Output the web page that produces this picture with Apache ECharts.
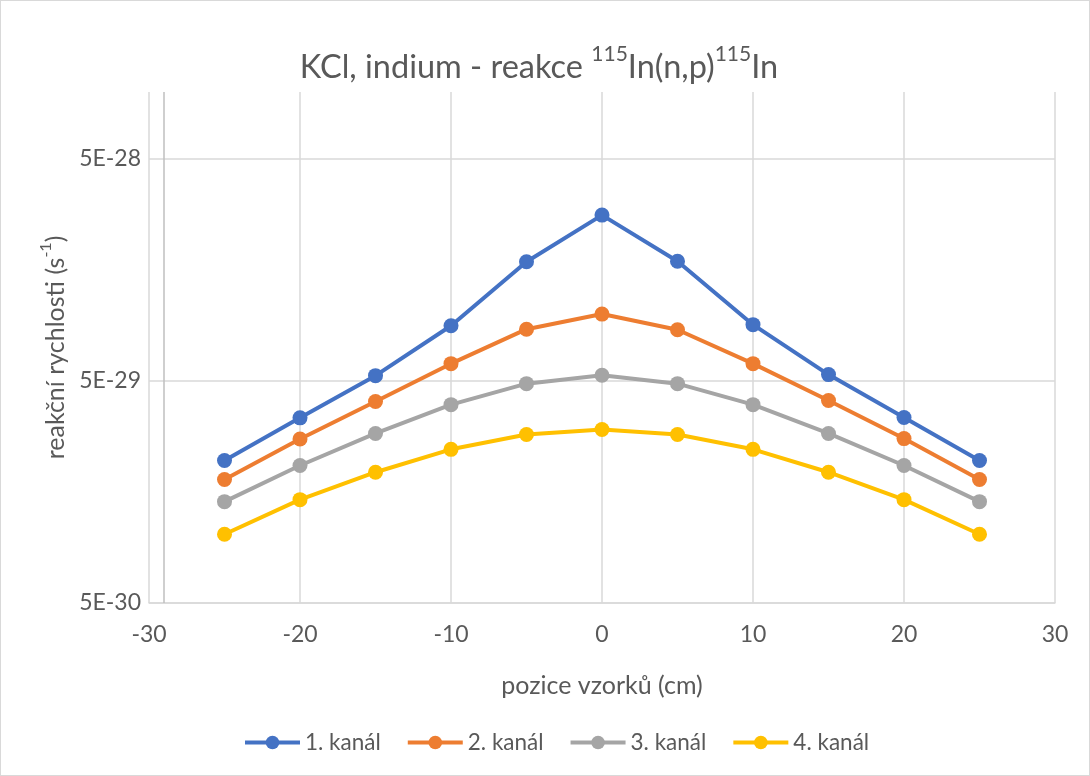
<!DOCTYPE html>
<html>
<head>
<meta charset="utf-8">
<script src="https://cdn.jsdelivr.net/npm/echarts@6/dist/echarts.min.js"></script>
<style>
html,body{margin:0;padding:0;background:#fff;}
#chart{width:1090px;height:776px;box-sizing:border-box;border:1px solid #d9d9d9;}
</style>
</head>
<body>
<div id="chart"></div>
<script>
// ---- data ----
const positions = [-25, -20, -15, -10, -5, 0, 5, 10, 15, 20, 25];
const seriesNames = ['1. kanál', '2. kanál', '3. kanál', '4. kanál'];
const kanal1 = [2.19e-29, 3.41e-29, 5.28e-29, 8.86e-29, 1.72e-28, 2.79e-28, 1.73e-28, 8.96e-29, 5.34e-29, 3.42e-29, 2.19e-29];
const kanal2 = [1.80e-29, 2.74e-29, 4.04e-29, 5.98e-29, 8.55e-29, 1.00e-28, 8.50e-29, 5.98e-29, 4.08e-29, 2.75e-29, 1.80e-29];
const kanal3 = [1.43e-29, 2.08e-29, 2.90e-29, 3.91e-29, 4.86e-29, 5.30e-29, 4.86e-29, 3.91e-29, 2.90e-29, 2.08e-29, 1.43e-29];
const kanal4 = [1.02e-29, 1.46e-29, 1.94e-29, 2.46e-29, 2.87e-29, 3.02e-29, 2.87e-29, 2.46e-29, 1.94e-29, 1.46e-29, 1.02e-29];
const xTicks = [-30, -20, -10, 0, 10, 20, 30];
const yMin = 5e-30;
const yMax = 1e-27;
const yTickLabels = ['5E-30', '5E-29', '5E-28'];

const colors = ['#4472C4', '#ED7D31', '#A5A5A5', '#FFC000'];
const allData = [kanal1, kanal2, kanal3, kanal4];
const FONT = 'Lato, "Open Sans", sans-serif';
const TXT = '#595959';
const GRID = '#d9d9d9';

const chart = echarts.init(document.getElementById('chart'), null, {renderer: 'canvas'});

const series = allData.map((vals, i) => ({
  name: seriesNames[i],
  type: 'line',
  yAxisIndex: 0,
  data: positions.map((x, j) => [x, vals[j]]),
  symbol: 'circle',
  symbolSize: 15,
  lineStyle: {width: 4, color: colors[i]},
  itemStyle: {color: colors[i]},
  emphasis: {disabled: true},
  z: 10 - i
}));

// vertical axis line of the original (drawn slightly right of the -30 gridline)
series[0].markLine = {
  silent: true,
  symbol: 'none',
  label: {show: false},
  lineStyle: {color: '#bfbfbf', width: 1.5, type: 'solid'},
  data: [{xAxis: -29}],
  z: 1
};

const decades = Math.log10(yMax / yMin);

chart.setOption({
  animation: false,
  color: colors,
  textStyle: {fontFamily: FONT},
  title: {
    text: '{n|KCl, indium - reakce }{s|115}{n|In(n,p)}{s|115}{n|In}',
    left: 533,
    textAlign: 'center',
    top: 38,
    textStyle: {
      fontWeight: 'normal',
      rich: {
        n: {fontSize: 32.5, fontWeight: 'normal', color: TXT, fontFamily: FONT, lineHeight: 40, verticalAlign: 'bottom'},
        s: {fontSize: 21, fontWeight: 'normal', color: TXT, fontFamily: FONT, lineHeight: 40, verticalAlign: 'top', padding: [0, 0, 12, 0]}
      }
    }
  },
  grid: {left: 148, right: 34, top: 91, bottom: 172, containLabel: false},
  xAxis: {
    type: 'value',
    min: -30, max: 30, interval: 10,
    name: 'pozice vzorků (cm)',
    nameLocation: 'middle',
    nameGap: 70,
    nameTextStyle: {fontSize: 25, color: TXT, fontFamily: FONT},
    axisLine: {show: true, onZero: false, lineStyle: {color: GRID, width: 1.5}},
    axisTick: {show: false},
    axisLabel: {fontSize: 23, color: TXT, margin: 20, fontFamily: FONT, formatter: v => String(v)},
    splitLine: {show: true, lineStyle: {color: GRID, width: 1.5}}
  },
  yAxis: [
    {
      // data axis: logarithmic
      type: 'log',
      logBase: 10,
      min: yMin, max: yMax,
      axisLine: {show: false},
      axisTick: {show: false},
      axisLabel: {show: false},
      splitLine: {show: false}
    },
    {
      // decade axis carrying gridlines and labels (decades above yMin)
      type: 'value',
      min: 0, max: decades, interval: 1,
      position: 'left',
      name: '{n|reakční rychlosti (s}{s|-1}{n|)}',
      nameLocation: 'middle',
      nameGap: 70,
      nameTextStyle: {
        rich: {
          n: {fontSize: 25, color: TXT, fontFamily: FONT, lineHeight: 30, verticalAlign: 'bottom'},
          s: {fontSize: 16, color: TXT, fontFamily: FONT, lineHeight: 30, verticalAlign: 'top'}
        }
      },
      axisLine: {show: false},
      axisTick: {show: false},
      axisLabel: {
        fontSize: 23, color: TXT, margin: 8, fontFamily: FONT,
        formatter: v => {
          const k = Math.round(v);
          return Math.abs(v - k) < 1e-6 && yTickLabels[k] ? yTickLabels[k] : '';
        }
      },
      splitLine: {show: true, showMaxLine: false, lineStyle: {color: GRID, width: 1.5}}
    }
  ],
  legend: {
    data: seriesNames,
    bottom: 16,
    left: 237,
    itemWidth: 55,
    itemHeight: 17,
    itemGap: 25,
    lineStyle: {width: 4},
    textStyle: {fontSize: 22.5, color: TXT, fontFamily: FONT}
  },
  series: series
});
</script>
</body>
</html>
